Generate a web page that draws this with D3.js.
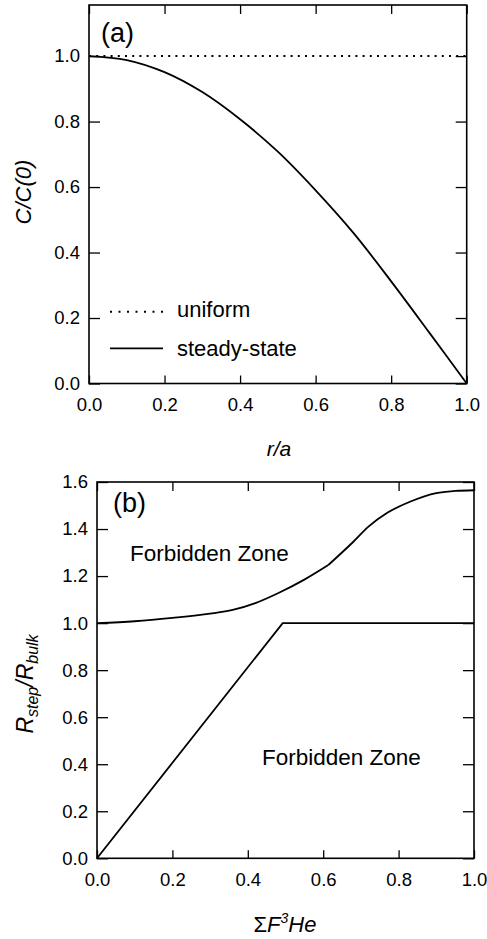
<!DOCTYPE html>
<html>
<head>
<meta charset="utf-8">
<script src="https://cdn.jsdelivr.net/npm/d3@7"></script>
<style>
  body { margin: 0; background: #fff; }
  text { font-family: "Liberation Sans", Arial, sans-serif; fill: #000; }
</style>
</head>
<body>
<svg id="chart" width="487" height="939"></svg>
<script>
// panel (a): concentration profile
var rA = [0, 0.1, 0.2, 0.3, 0.4, 0.5, 0.6, 0.7, 0.8, 0.9, 1.0]
var steadyState = [1.0, 0.988, 0.951, 0.89, 0.807, 0.708, 0.59, 0.46, 0.312, 0.157, 0.0]
var uniform = [1.0, 1.0]
var uniformX = [0, 1]

// panel (b): forbidden zone boundaries
var upperX1 = [0, 0.1, 0.2, 0.3, 0.36, 0.42, 0.48, 0.55, 0.6135]
var upperY1 = [1.0, 1.008, 1.022, 1.04, 1.056, 1.085, 1.127, 1.185, 1.247]
var upperX2 = [0.6135, 0.68, 0.72, 0.77, 0.83, 0.9, 0.95, 1.0]
var upperY2 = [1.247, 1.346, 1.41, 1.469, 1.516, 1.553, 1.562, 1.565]
var lowerX = [0, 0.4925, 1.0]
var lowerY = [0, 1.0, 1.0]

var ticksA = [0, 0.2, 0.4, 0.6, 0.8, 1.0]
var ticksB = [0, 0.2, 0.4, 0.6, 0.8, 1.0, 1.2, 1.4, 1.6]

var svg = d3.select('#chart')

function zip (xs, ys) {
  return xs.map(function (x, i) { return [x, ys[i]] })
}

function drawFrame (x, y, xTicks, yTicks) {
  var g = svg.append('g')
  var x0 = x.range()[0], x1 = x.range()[1]
  var y0 = y.range()[0], y1 = y.range()[1]
  var fmt = d3.format('.1f')

  g.append('g').attr('transform', 'translate(0,' + y0 + ')')
    .call(d3.axisBottom(x).tickValues(xTicks).tickSize(-8).tickSizeOuter(0).tickPadding(14.5).tickFormat(fmt))
  g.append('g').attr('transform', 'translate(0,' + y1 + ')')
    .call(d3.axisTop(x).tickValues(xTicks).tickSize(-9).tickSizeOuter(0).tickFormat(''))
  g.append('g').attr('transform', 'translate(' + x0 + ',0)')
    .call(d3.axisLeft(y).tickValues(yTicks).tickSize(-11).tickSizeOuter(0).tickPadding(9).tickFormat(fmt))
  g.append('g').attr('transform', 'translate(' + x1 + ',0)')
    .call(d3.axisRight(y).tickValues(yTicks).tickSize(-11).tickSizeOuter(0).tickFormat(''))

  g.selectAll('.domain').remove()
  g.selectAll('.tick line').attr('stroke', '#000').attr('stroke-width', 1.3)
  g.selectAll('.tick text').attr('font-size', 18.5).attr('font-family', '"Liberation Sans", Arial, sans-serif').attr('fill', '#000')

  g.append('rect')
    .attr('x', x0).attr('y', y1)
    .attr('width', x1 - x0).attr('height', y0 - y1)
    .attr('fill', 'none').attr('stroke', '#000').attr('stroke-width', 1.6)
}

// ---- panel (a)
var xa = d3.scaleLinear().domain([0, 1]).range([89, 466.7])
var ya = d3.scaleLinear().domain([0, 1.156]).range([383.5, 5])

drawFrame(xa, ya, ticksA, ticksA)

var lineA = d3.line().x(function (d) { return xa(d[0]) }).y(function (d) { return ya(d[1]) })

svg.append('path')
  .datum(zip(uniformX, uniform))
  .attr('d', lineA)
  .attr('fill', 'none').attr('stroke', '#000').attr('stroke-width', 2)
  .attr('stroke-dasharray', '2,5.2')

svg.append('path')
  .datum(zip(rA, steadyState))
  .attr('d', lineA.curve(d3.curveCatmullRom))
  .attr('fill', 'none').attr('stroke', '#000').attr('stroke-width', 1.8)

svg.append('text').attr('x', 101).attr('y', 42).attr('font-size', 27).text('(a)')

// legend
svg.append('line').attr('x1', 110).attr('x2', 163).attr('y1', 311.7).attr('y2', 311.7)
  .attr('stroke', '#000').attr('stroke-width', 2).attr('stroke-dasharray', '2,6.5')
svg.append('text').attr('x', 177).attr('y', 316.7).attr('font-size', 22).text('uniform')
svg.append('line').attr('x1', 110).attr('x2', 163).attr('y1', 348.3).attr('y2', 348.3)
  .attr('stroke', '#000').attr('stroke-width', 1.8)
svg.append('text').attr('x', 177).attr('y', 355.5).attr('font-size', 22).text('steady-state')

svg.append('text').attr('x', 279).attr('y', 456).attr('font-size', 21)
  .attr('font-style', 'italic').attr('text-anchor', 'middle').text('r/a')

svg.append('text')
  .attr('transform', 'translate(31,192) rotate(-90)')
  .attr('font-size', 22).attr('font-style', 'italic').attr('text-anchor', 'middle')
  .text('C/C(0)')

// ---- panel (b)
var xb = d3.scaleLinear().domain([0, 1]).range([97, 474])
var yb = d3.scaleLinear().domain([0, 1.6]).range([858.3, 482])

drawFrame(xb, yb, ticksA, ticksB)

var lineB = d3.line().x(function (d) { return xb(d[0]) }).y(function (d) { return yb(d[1]) })
var smoothB = d3.line().x(function (d) { return xb(d[0]) }).y(function (d) { return yb(d[1]) }).curve(d3.curveMonotoneX)

;[zip(upperX1, upperY1), zip(upperX2, upperY2)].forEach(function (seg) {
  svg.append('path').datum(seg).attr('d', smoothB)
    .attr('fill', 'none').attr('stroke', '#000').attr('stroke-width', 1.8)
})

svg.append('path')
  .datum(zip(lowerX, lowerY))
  .attr('d', lineB)
  .attr('fill', 'none').attr('stroke', '#000').attr('stroke-width', 1.8)

svg.append('text').attr('x', 113).attr('y', 512).attr('font-size', 27).text('(b)')
svg.append('text').attr('x', 130).attr('y', 561).attr('font-size', 22.5).text('Forbidden Zone')
svg.append('text').attr('x', 262).attr('y', 765).attr('font-size', 22.5).text('Forbidden Zone')

var xt = svg.append('text').attr('x', 285).attr('y', 932).attr('font-size', 22).attr('text-anchor', 'middle')
xt.append('tspan').text('\u03A3')
xt.append('tspan').attr('font-style', 'italic').text('F')
xt.append('tspan').attr('font-style', 'italic').attr('font-size', 14).attr('dy', -9).text('3')
xt.append('tspan').attr('font-style', 'italic').attr('dy', 9).text('He')

var yt = svg.append('text')
  .attr('transform', 'translate(33,684) rotate(-90)')
  .attr('font-size', 23).attr('font-style', 'italic').attr('text-anchor', 'middle')
yt.append('tspan').text('R')
yt.append('tspan').attr('font-size', 16).attr('dy', 5).text('step')
yt.append('tspan').attr('dy', -5).text('/R')
yt.append('tspan').attr('font-size', 16).attr('dy', 5).text('bulk')
</script>
</body>
</html>
